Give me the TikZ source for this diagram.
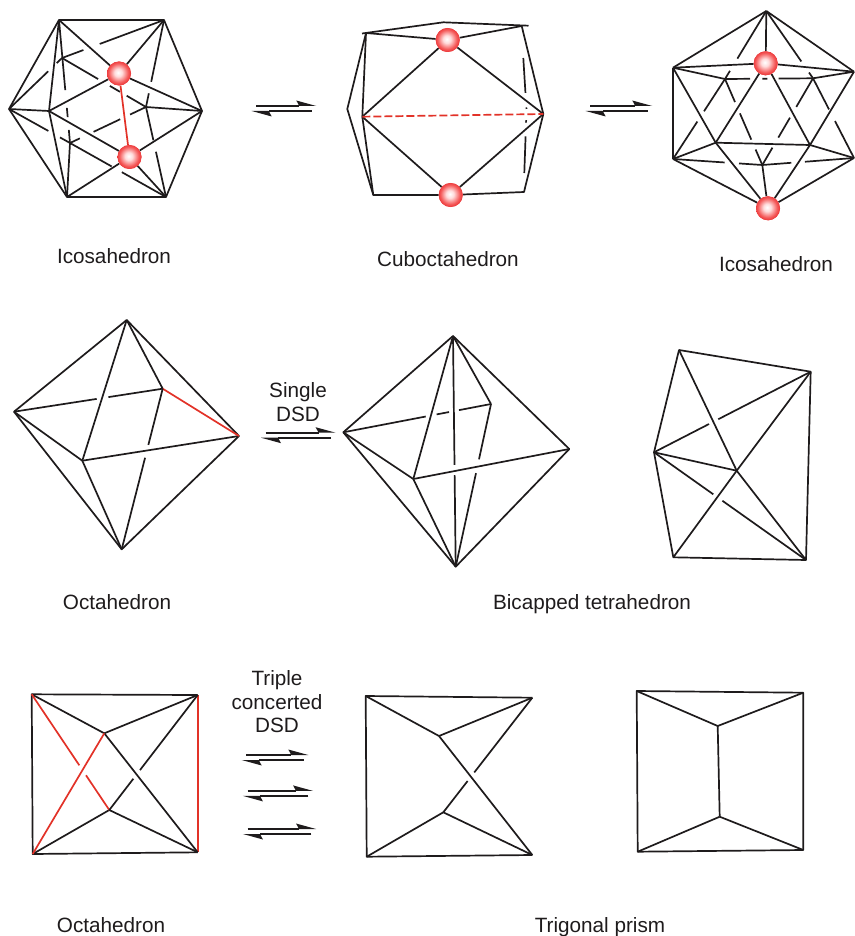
\documentclass[tikz,border=0pt]{standalone}
\usepackage{xcolor}
\usepackage{fontspec}
\setmainfont{Liberation Sans}
\usepackage{tikz}
\usetikzlibrary{arrows.meta, calc}
\definecolor{inkblack}{RGB}{30, 27, 28}
\definecolor{bondred}{RGB}{226, 50, 40}
\pgfdeclareradialshading{redball}{\pgfpoint{-2bp}{2bp}}{rgb(0bp)=(1,1,1); rgb(8bp)=(1,.86,.86); rgb(20bp)=(.96,.36,.36); rgb(29bp)=(.9,.12,.13); rgb(50bp)=(.72,.03,.05)}

\begin{document}
\begin{tikzpicture}[
    x=1pt, y=-1pt,
    every node/.style={font=\fontsize{20.7}{23.5}\selectfont, align=center, text=inkblack},
    bond/.style={draw=inkblack, line width=1.7pt, line join=round},
    redbond/.style={draw=bondred, line width=1.7pt, line join=round},
    ball/.style={circle, minimum size=24pt, inner sep=0pt, shade, shading=redball},
    harp/.style={draw=inkblack, line width=1.8pt, -{Stealth[harpoon, length=20pt, width=11pt, inset=3pt, line width=0pt]}},
    equil/.pic={
        \coordinate (-ua) at (-#1/2+2.3,-2.5);
        \coordinate (-ub) at (#1/2+2.3,-2.5);
        \coordinate (-la) at (#1/2-2.3,2.5);
        \coordinate (-lb) at (-#1/2-2.3,2.5);
        \draw[harp] (-ua) -- (-ub);
        \draw[harp] (-la) -- (-lb);
    }
]
\useasboundingbox (0,0) rectangle (854,936);

% First Icosahedron
\foreach \n/\x/\y in {ia/59/20, ib/164/20, ic/202/111, id/166/197, ie/67/197, if/9/109, ig/49/111,
    ih/62/58, ii/146/107, ij/70/143}
    \coordinate (\n) at (\x,\y);
\node[ball] (iup) at (119,73.5) {};
\node[ball] (idn) at (129.5,157) {};
\draw[bond] (ia) -- (ib) -- (ic) -- (id) -- (ie) -- (if) -- cycle;
\foreach \a/\b in {ia/ig, ig/if, ig/iup, iup/ia, iup/ib, iup/ic, ig/ie, ig/idn, idn/ie, idn/id, idn/ic, ii/ic, ie/ij}
    \draw[bond] (\a) -- (\b);
\foreach \a/\b/\s/\e in {ib/ih/0/.63, ib/ih/.79/1, ih/ii/0/.43, ih/ii/.57/.69, ih/ii/.77/1,
    ii/ib/0/.157, ii/ib/.29/1, ii/id/0/.37, ii/id/.497/1, ii/ij/0/.21, ii/ij/.34/.69, ii/ij/.87/1,
    if/ij/0/.645, if/ij/.836/1, ia/ij/0/.57, ia/ij/.715/.79, ia/ij/.894/1,
    ij/id/0/.434, ij/id/.54/1, if/ih/0/.74, if/ih/.9/1}
    \draw[bond] ($(\a)!\s!(\b)$) -- ($(\a)!\e!(\b)$);
\draw[redbond] (iup) -- (idn);
\node[ball] at (iup) {};
\node[ball] at (idn) {};
\node (icosa) at (114,256) {Icosahedron};

% Cuboctahedron
\foreach \n/\x/\y in {ca/366/33, cb/443.3/22.3, cc/521.7/26, cd/347.3/109, ce/362.3/116.7, cf/543.3/114,
    cg/373.3/195, ch/524/192, cai/362/33.5, cci/528.5/25.7, cj/523.3/58, ck/526.5/110, cl/524.3/173}
    \coordinate (\n) at (\x,\y);
\node[ball] (cup) at (447.7,40) {};
\node[ball] (cdn) at (450.7,195) {};
\draw[bond] (cai) -- (cb) -- (cci);
\draw[bond] (ca) -- (cd) -- (cg) -- (cdn) -- (ch) -- (cf) -- (cc);
\foreach \a/\b in {ca/cup, cup/cc, ca/ce, ce/cg, cup/ce, cup/cf, cdn/ce, cdn/cf}
    \draw[bond] (\a) -- (\b);
\draw[redbond, dash pattern=on 8pt off 3pt] (ce) -- (cf);
\foreach \a/\b/\s/\e in {cj/ck/0/.67, cj/ck/.95/.98, ck/cl/.16/.2, ck/cl/.42/1}
    \draw[bond] ($(\a)!\s!(\b)$) -- ($(\a)!\e!(\b)$);
\node[ball] at (cup) {};
\node[ball] at (cdn) {};
\node (cubo) at (448,259) {Cuboctahedron};

% Second Icosahedron
\foreach \n/\x/\y in {ja/766.3/11, jb/673/67.7, jc/854/71.7, jd/673/159, je/854/158,
    jf/725/79, jg/813/78.3, jh/762.3/165, ji/715.7/142.7, jj/810/145}
    \coordinate (\n) at (\x,\y);
\node[ball] (jup) at (765.7,63.3) {};
\node[ball] (jdn) at (768,208.3) {};
\foreach \a/\b in {ja/jb, ja/jc, ja/jup, jb/jup, jup/jc, jb/jd, jb/ji, jb/jf, jg/jc, jc/jj, je/jj,
    jup/ji, jup/jj, ji/jj, ji/jd, ji/jdn, jj/jdn, jd/jdn, je/jdn, jh/jdn}
    \draw[bond] (\a) -- (\b);
\foreach \a/\b/\s/\e in {ja/jf/0/.70, ja/jf/.88/1, ja/jg/0/.75, ja/jg/.914/1,
    jf/jg/0/.284, jf/jg/.424/.481, jf/jg/.61/1, jf/jd/0/.404, jf/jd/.532/1,
    jf/jh/0/.268, jf/jh/.40/.705, jf/jh/.82/1, jg/jh/0/.33, jg/jh/.454/.684, jg/jh/.80/1,
    jg/je/0/.39, jg/je/.537/1, jd/jh/0/.578, jd/jh/.739/1, je/jh/0/.535, je/jh/.684/1}
    \draw[bond] ($(\a)!\s!(\b)$) -- ($(\a)!\e!(\b)$);
\node[ball] at (jup) {};
\node[ball] at (jdn) {};
\node (icosb) at (776,264) {Icosahedron};

% Octahedron, middle row
\foreach \n/\x/\y in {oa/126.7/320, ob/14/411.7, oc/239/436, od/121.7/549.3, oe/82.3/460.7, of/162.7/388.7}
    \coordinate (\n) at (\x,\y);
\draw[bond] (oa) -- (ob) -- (od) -- (oc) -- cycle;
\foreach \a/\b in {oa/of, oa/oe, ob/oe, oe/od, oe/oc}
    \draw[bond] (\a) -- (\b);
\draw[redbond] (of) -- (oc);
\foreach \a/\b/\s/\e in {ob/of/0/.556, ob/of/.635/1, of/od/0/.35, of/od/.43/1}
    \draw[bond] ($(\a)!\s!(\b)$) -- ($(\a)!\e!(\b)$);
\node (octa) at (117,602) {Octahedron};

% Bicapped tetrahedron, first view
\foreach \n/\x/\y in {pa/453/336, pb/343.3/432.3, pc/569.3/449, pd/455.7/566.7, pe/413.3/479, pf/491/404}
    \coordinate (\n) at (\x,\y);
\draw[bond] (pa) -- (pb) -- (pd) -- (pc) -- cycle;
\foreach \a/\b in {pa/pf, pa/pe, pb/pe, pe/pd, pe/pc}
    \draw[bond] (\a) -- (\b);
\foreach \a/\b/\s/\e in {pb/pf/0/.558, pb/pf/.632/.716, pb/pf/.783/1, pf/pd/0/.34, pf/pd/.425/1,
    pa/pd/0/.559, pa/pd/.603/1}
    \draw[bond] ($(\a)!\s!(\b)$) -- ($(\a)!\e!(\b)$);

% Bicapped tetrahedron, second view
\foreach \n/\x/\y in {qa/679/350, qb/810.7/371.7, qc/654/452.3, qd/736.7/470.7, qe/673.3/557.3, qf/806/560}
    \coordinate (\n) at (\x,\y);
\draw[bond] (qa) -- (qb) -- (qf) -- (qe) -- (qc) -- cycle;
\foreach \a/\b in {qa/qd, qd/qf, qe/qd, qd/qb, qc/qd}
    \draw[bond] (\a) -- (\b);
\foreach \a/\b/\s/\e in {qc/qb/0/.351, qc/qb/.41/1, qc/qf/0/.39, qc/qf/.45/1}
    \draw[bond] ($(\a)!\s!(\b)$) -- ($(\a)!\e!(\b)$);
\node (bicap) at (592,604) {Bicapped tetrahedron};

% Octahedron, bottom row
\foreach \n/\x/\y in {ra/31.7/694.3, rb/197.7/695, rc/32.7/854, rd/197.7/852.3, re/104.3/733.3, rf/109.3/810}
    \coordinate (\n) at (\x,\y);
\draw[bond] (rb) -- (ra) -- (rc) -- (rd);
\draw[redbond] (rb) -- (rd);
\foreach \a/\b in {ra/re, re/rb, re/rd, rf/rc, rf/rd}
    \draw[bond] (\a) -- (\b);
\draw[redbond] (re) -- (rc);
\foreach \s/\e in {0/.614, .70/1}
    \draw[redbond] ($(ra)!\s!(rf)$) -- ($(ra)!\e!(rf)$);
\foreach \s/\e in {0/.272, .347/1}
    \draw[bond] ($(rf)!\s!(rb)$) -- ($(rf)!\e!(rb)$);
\node (octb) at (111,925) {Octahedron};

% Half way to the prism
\foreach \n/\x/\y in {sa/365.7/696, sb/532.3/697.7, sc/366.7/856.7, sd/532.3/855, se/439/736, sf/443.3/812.3}
    \coordinate (\n) at (\x,\y);
\draw[bond] (sb) -- (sa) -- (sc) -- (sd);
\foreach \a/\b in {sa/se, se/sb, se/sd, sf/sc, sf/sd}
    \draw[bond] (\a) -- (\b);
\foreach \s/\e in {0/.273, .348/1}
    \draw[bond] ($(sf)!\s!(sb)$) -- ($(sf)!\e!(sb)$);

% Trigonal prism
\foreach \n/\x/\y in {ta/636.7/691, tb/803.3/692.7, tc/637.7/851.7, td/803.3/850, te/717.7/726, tf/719.7/816.7}
    \coordinate (\n) at (\x,\y);
\draw[bond] (ta) -- (tb) -- (td) -- (tc) -- cycle;
\foreach \a/\b in {ta/te, te/tb, te/tf, tf/tc, tf/td}
    \draw[bond] (\a) -- (\b);
\node (prism) at (600,927) {Trigonal prism};

% Equilibrium arrows
\foreach \n/\x/\y/\w in {eqa/284/108.5/60, eqb/619/108.5/62, eqc/298.3/435.2/70,
    eqd/275/757.5/62, eqe/278/793.4/65.5, eqf/279.5/831.5/68.5}
    \pic (\n) at (\x,\y) {equil=\w};
\node (single) at (298,402) {Single\\DSD};
\node (triple) at (277,702) {Triple\\concerted\\DSD};

\end{tikzpicture}
\end{document}
